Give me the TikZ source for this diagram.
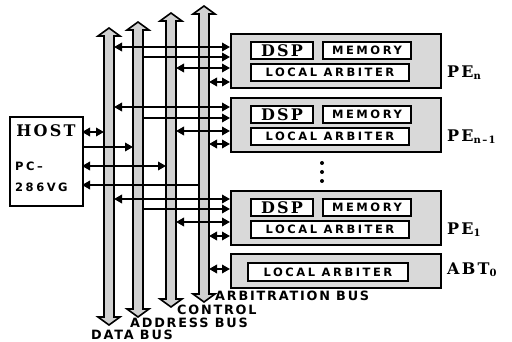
\documentclass[tikz,border=0pt]{standalone}
\usepackage{fontspec}
\setmainfont{DejaVu Serif}
\newfontfamily\sansb[LetterSpace=22]{DejaVu Sans}
\newfontfamily\labsans[LetterSpace=14]{DejaVu Sans}
\newfontfamily\serifb[LetterSpace=14]{DejaVu Serif}
\usetikzlibrary{arrows.meta}
\newcommand{\subs}[1]{\raisebox{-2pt}{\serifb\bfseries\fontsize{10}{10}\selectfont #1}}

\tikzset{
	bus/.style={draw,line width=1.6pt,fill=black!18},
	pebox/.style={draw,line width=1.8pt,fill=black!15,anchor=north west,minimum width=210pt,inner sep=0pt},
	inbox/.style={draw,line width=2pt,fill=white,anchor=north west,minimum height=17pt,inner sep=0pt},
	tag/.style={font=\sansb\bfseries\fontsize{11.5}{12}\selectfont},
	big/.style={font=\serifb\bfseries\fontsize{16}{17}\selectfont},
	pelab/.style={font=\serifb\bfseries\fontsize{16}{17}\selectfont,anchor=west,inner sep=0pt},
	buslab/.style={font=\labsans\bfseries\fontsize{12.8}{13}\selectfont,anchor=west,inner sep=0pt},
	conn/.style={line width=1.8pt,-{Triangle[length=8pt,width=8.5pt]}},
	dconn/.style={line width=1.8pt,{Triangle[length=8pt,width=8.5pt]}-{Triangle[length=8pt,width=8.5pt]}},
}

\begin{document}
\begin{tikzpicture}[x=1pt,y=-1pt]
	\useasboundingbox (0,0) rectangle (512,342);
	% les bus
	\foreach \n/\x/\t/\b in {data/109/28/325,addr/138/22/317,ctrl/171/13/307,arb/204/6/302}{
		\draw[bus] (\x-5,\t+8) -- (\x-11,\t+8) -- (\x,\t) -- (\x+11,\t+8) -- (\x+5,\t+8) -- (\x+5,\b-8)
			-- (\x+11,\b-8) -- (\x,\b) -- (\x-11,\b-8) -- (\x-5,\b-8) -- cycle;
		\coordinate (\n L) at (\x-5,\t);
		\coordinate (\n R) at (\x+5,\t);
		}
	% host
	\node[draw,line width=2pt,anchor=north west,minimum width=73pt,minimum height=89pt,inner sep=0pt] (host) at (9,116) {};
	\node[big] (hostt) at (46,131) {HOST};
	\node[tag,anchor=west,inner sep=0pt] (pc) at (15,166) {PC–};
	\node[tag,anchor=west,inner sep=0pt] (vg) at (15,187) {286VG};
	\foreach \i/\y in {1/132,2/147,3/166,4/185}
		\coordinate (h\i) at (82,\y);
	\draw[dconn] (h1) -- (dataL |- h1);
	\draw[conn] (h2) -- (addrL |- h2);
	\draw[dconn] (h3) -- (ctrlL |- h3);
	\draw[conn] (arbL |- h4) -- (h4);
	% elements de calcul
	\foreach \nm/\t/\sub/\ya/\yb/\yc/\yd in {pen/33/n/47/57/68/82,pem/97/n–1/107/118/131/144,peo/190/1/199/209/222/236}{
		\node[pebox,minimum height=54pt] (\nm) at (230,\t) {};
		\node[inbox,big,minimum width=62pt] (\nm-dsp) at (250,\t+8) {DSP};
		\node[inbox,tag,minimum width=88pt] (\nm-mem) at (322,\t+8) {MEMORY};
		\node[inbox,tag,minimum width=158pt] (\nm-la) at (250,\t+30) {LOCAL ARBITER};
		\node[pelab] (\nm-lab) at (447,\t+40) {PE\subs{\sub}};
		\coordinate (\nm-a) at (230,\ya);
		\coordinate (\nm-b) at (230,\yb);
		\coordinate (\nm-c) at (230,\yc);
		\coordinate (\nm-d) at (230,\yd);
		\draw[dconn] (dataR |- \nm-a) -- (\nm-a);
		\draw[conn] (addrR |- \nm-b) -- (\nm-b);
		\draw[dconn] (ctrlR |- \nm-c) -- (\nm-c);
		\draw[dconn] (arbR |- \nm-d) -- (\nm-d);
		}
	\foreach \y in {163,172,181}
		\fill (322,\y) circle (2pt);
	% arbitre
	\node[pebox,minimum height=34pt] (abt) at (230,253) {};
	\node[inbox,tag,minimum width=160pt,minimum height=18pt] (abt-la) at (247,262) {LOCAL ARBITER};
	\node[pelab] (abt-lab) at (447,270) {ABT\subs{0}};
	\coordinate (abt-a) at (230,269);
	\draw[dconn] (arbR |- abt-a) -- (abt-a);
	% legende
	\node[buslab] (arbl) at (215,296) {ARBITRATION BUS};
	\node[buslab] (ctrll) at (177,310) {CONTROL};
	\node[buslab] (addrl) at (130,323) {ADDRESS BUS};
	\node[buslab] (datal) at (91,335) {DATA BUS};
\end{tikzpicture}
\end{document}
